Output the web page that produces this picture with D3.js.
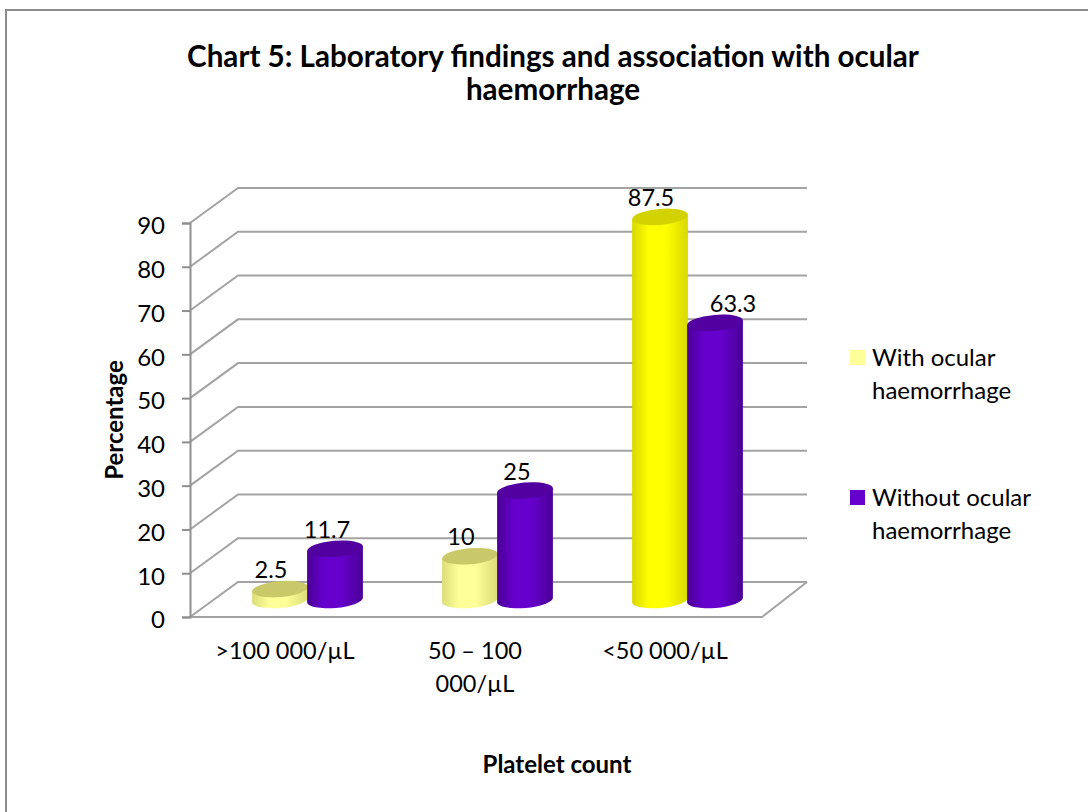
<!DOCTYPE html>
<html><head><meta charset="utf-8">
<script src="https://cdn.jsdelivr.net/npm/d3@7"></script>
<style>html,body{margin:0;padding:0;background:#fff}svg{display:block}text{font-family:Lato,"Open Sans",sans-serif;fill:#000}</style>
</head><body><svg id="c" width="1088" height="812"></svg>
<script>
const categories = [">100 000/µL", "50 – 100 000/µL", "<50 000/µL"];
const categoryLines = [[">100 000/µL"], ["50 – 100", "000/µL"], ["<50 000/µL"]];
const seriesNames = ["With ocular haemorrhage", "Without ocular haemorrhage"];
const withOcular = [2.5, 10, 87.5];
const withoutOcular = [11.7, 25, 63.3];
const yTicks = [0,10,20,30,40,50,60,70,80,90];

const svg = d3.select("#c");
svg.append("path").attr("d","M6,812 V10 H1088").attr("fill","none").attr("stroke","#8c8c8c").attr("stroke-width",2);

const depthX = 48, depthY = -35, wallRight = 807;
const y = d3.scaleLinear().domain([0,90]).range([617,223]);
const x0 = d3.scaleBand().domain(categories).range([190,760]);
const baseShift = -17;

const defs = svg.append("defs");
function grad(id, edge, mid){
  const g = defs.append("linearGradient").attr("id",id).attr("x1","0").attr("x2","1").attr("y1","0").attr("y2","0");
  [[0,edge],[.3,mid],[.6,mid],[1,edge]].forEach(s=>g.append("stop").attr("offset",s[0]).attr("stop-color",s[1]));
}
grad("gPale","#dcdc78","#ffff99");
grad("gBright","#d8d800","#ffff00");
grad("gPurple","#4a0096","#6600cc");

const grid = svg.append("g").attr("fill","none").attr("stroke","#a3a3a3").attr("stroke-width",2);
yTicks.forEach(t=>{
  const py = y(t);
  grid.append("path").attr("d",d3.line()([[190,py],[190+depthX,py+depthY],[wallRight,py+depthY]]));
});
grid.append("path").attr("d",d3.line()([[190,617],[762,617],[wallRight,617+depthY]]));

const axis = svg.append("g").attr("transform","translate(190,0)").call(d3.axisLeft(y).tickValues(yTicks).tickSize(8).tickPadding(17).tickFormat(d3.format("d")));
axis.selectAll("path,line").attr("stroke","#8f8f8f").attr("stroke-width",2);
axis.selectAll("text").attr("font-size",24).attr("font-family","Lato").attr("dy","0.45em");

const rx = 28, ry = 8, tilt = -5;
function cyl(cx, yTop, yBase, fill, topFill){
  const a = tilt*Math.PI/180;
  const dx = rx*Math.cos(a), dy = rx*Math.sin(a);
  const g = svg.append("g");
  g.append("path").attr("fill",`url(#${fill})`)
    .attr("d",`M${cx-dx},${yTop-dy} L${cx-dx},${yBase-dy} A${rx},${ry} ${tilt} 0 0 ${cx+dx},${yBase+dy} L${cx+dx},${yTop+dy} Z`);
  g.append("ellipse").attr("cx",cx).attr("cy",yTop).attr("rx",rx).attr("ry",ry)
    .attr("transform",`rotate(${tilt} ${cx} ${yTop})`).attr("fill",topFill);
}
const base = v=>y(v)+baseShift;
categories.forEach((c,i)=>{
  const mid = x0(c)+x0.bandwidth()/2;
  const cY = mid-5, cP = cY+55;
  const pale = i<2;
  cyl(cY, base(withOcular[i]), base(0), pale?"gPale":"gBright", pale?"#c9c96a":"#d2d200");
  cyl(cP, base(withoutOcular[i]), base(0), "gPurple", "#52009f");
  svg.append("text").attr("x",cY-9).attr("y",base(withOcular[i])-19).attr("dy","0.35em").attr("text-anchor","middle").attr("font-size",23.5).text(withOcular[i]);
  svg.append("text").attr("x",cP+(i==2?18:-8)).attr("y",base(withoutOcular[i])-19).attr("dy","0.35em").attr("text-anchor","middle").attr("font-size",23.5).text(withoutOcular[i]);
  categoryLines[i].forEach((l,j)=>svg.append("text").attr("x",mid).attr("y",651+j*33).attr("dy","0.35em").attr("text-anchor","middle").attr("font-size",23.5).text(l));
});

const T = (x,y,s,size,w)=>svg.append("text").attr("x",x).attr("y",y).attr("dy","0.35em").attr("text-anchor","middle").attr("font-size",size).attr("font-weight",w||400).text(s);
T(553,57,"Chart 5: Laboratory findings and association with ocular",29.6,700);
T(553,90,"haemorrhage",29.6,700);
T(557,765,"Platelet count",24,700);
svg.append("text").attr("transform","translate(115,420) rotate(-90)").attr("dy","0.35em").attr("text-anchor","middle").attr("font-size",24).attr("font-weight",700).text("Percentage");

const lg = [[350,"#ffff99",["With ocular","haemorrhage"]],[490,"#6600cc",["Without ocular","haemorrhage"]]];
lg.forEach(([ly,col,lines],i)=>{
  svg.append("rect").attr("x",850).attr("y",ly).attr("width",15).attr("height",15).attr("fill",col).attr("data-series",seriesNames[i]);
  lines.forEach((l,j)=>svg.append("text").attr("x",872).attr("y",ly+8+j*33).attr("dy","0.35em").attr("font-size",24).text(l));
});
</script></body></html>
